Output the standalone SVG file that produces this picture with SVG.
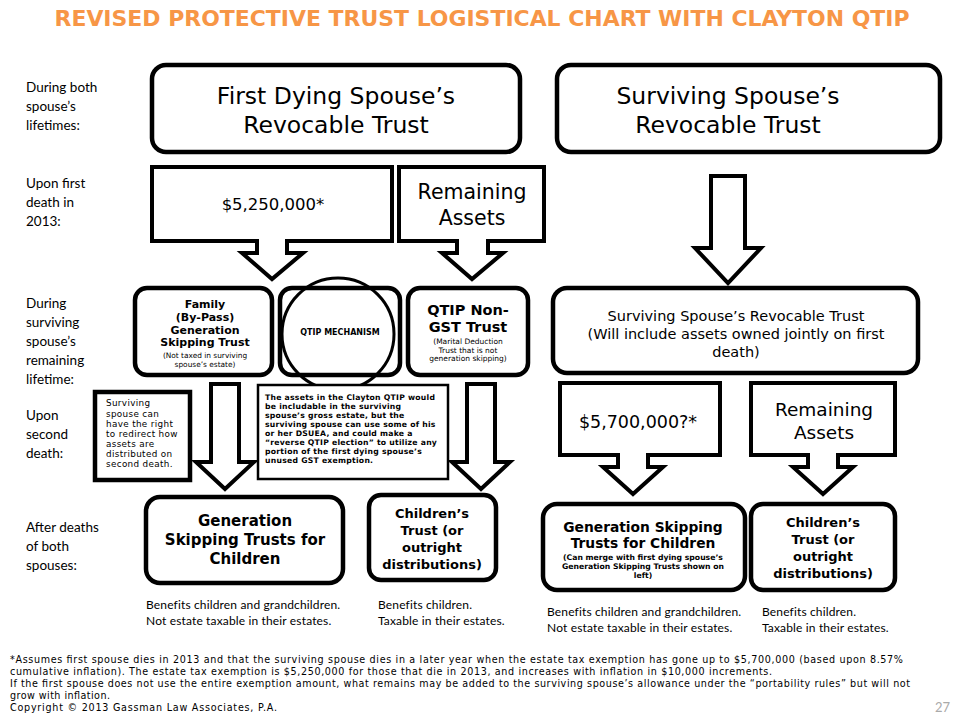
<svg xmlns="http://www.w3.org/2000/svg" width="960" height="720" viewBox="0 0 960 720">
<style>
.box{fill:#fff;stroke:#000;stroke-width:4.5}
.call{fill:#fff;stroke:#000;stroke-width:4;stroke-linejoin:miter}
.v{font-family:"DejaVu Sans",Verdana,sans-serif;fill:#000}
.b{font-family:"DejaVu Sans",Verdana,sans-serif;font-weight:bold;fill:#000}
.c{font-family:Lato,"Liberation Sans",sans-serif;fill:#000}
.m{text-anchor:middle}
</style>
<rect width="960" height="720" fill="#fff"/>
<text x="482" y="26" font-family="'DejaVu Sans Condensed','DejaVu Sans',sans-serif" font-weight="bold" text-anchor="middle" font-size="20.5" fill="#F79646" textLength="855" lengthAdjust="spacingAndGlyphs">REVISED PROTECTIVE TRUST LOGISTICAL CHART WITH CLAYTON QTIP</text>

<g id="labels" class="c" font-size="13.5">
<text x="26" y="92">During both</text><text x="26" y="111">spouse’s</text><text x="26" y="130">lifetimes:</text>
<text x="26" y="188">Upon first</text><text x="26" y="207">death in</text><text x="26" y="226">2013:</text>
<text x="26" y="308">During</text><text x="26" y="327">surviving</text><text x="26" y="346">spouse’s</text><text x="26" y="365">remaining</text><text x="26" y="384">lifetime:</text>
<text x="26" y="420">Upon</text><text x="26" y="439">second</text><text x="26" y="458">death:</text>
<text x="26" y="532">After deaths</text><text x="26" y="551">of both</text><text x="26" y="570">spouses:</text>
</g>

<g id="connectors">
<path class="call" d="M711,176 H745 V248 H761 L728,283 L695,248 H711 Z"/>
<path class="call" d="M211,384 H239 V462 H254 L225,489 L196,462 H211 Z"/>
<path class="call" d="M467,384 H495 V462 H510 L481,489 L452,462 H467 Z"/>
</g>

<g id="first-dying">
<rect class="box" x="152" y="65" width="368" height="87" rx="14"/>
<text class="v m" font-size="23.5" x="336" y="104">First Dying Spouse’s</text>
<text class="v m" font-size="23.5" x="336" y="133">Revocable Trust</text>
</g>
<g id="surviving">
<rect class="box" x="557" y="65" width="383" height="87" rx="14"/>
<text class="v m" font-size="23.5" x="728" y="104">Surviving Spouse’s</text>
<text class="v m" font-size="23.5" x="728" y="133">Revocable Trust</text>
</g>

<g id="amount-first">
<path class="call" d="M152,167 H392 V241 H287 V253 H303 L272,279 L242,253 H257 V241 H152 Z"/>
<text class="v m" font-size="16.5" x="273" y="210">$5,250,000*</text>
</g>
<g id="remaining-first">
<path class="call" d="M399,167 H544 V241 H488 V253 H503 L472,279 L442,253 H457 V241 H399 Z"/>
<text class="v m" font-size="20.5" x="472" y="199">Remaining</text>
<text class="v m" font-size="20.5" x="472" y="225">Assets</text>
</g>

<g id="family">
<rect class="box" x="135" y="288" width="137" height="87" rx="12"/>
<g class="b m" font-size="11">
<text x="205" y="308">Family</text><text x="205" y="321">(By-Pass)</text><text x="205" y="333.5">Generation</text><text x="205" y="346">Skipping Trust</text>
</g>
<g class="v m" font-size="7.4">
<text x="205" y="357.5">(Not taxed in surviving</text><text x="205" y="367">spouse’s estate)</text>
</g>
</g>
<g id="qtip-mechanism">
<rect class="box" x="280" y="288" width="120" height="87" rx="12"/>
<circle cx="338" cy="334" r="56" fill="none" stroke="#000" stroke-width="3"/>
<text class="b m" font-size="8" x="340" y="335">QTIP MECHANISM</text>
</g>
<g id="qtip-non-gst">
<rect class="box" x="408" y="288" width="120" height="87" rx="12"/>
<text class="b m" font-size="14.5" x="468" y="315">QTIP Non-</text>
<text class="b m" font-size="14.5" x="468" y="332">GST Trust</text>
<g class="v m" font-size="7.5">
<text x="468" y="344">(Marital Deduction</text><text x="468" y="352.5">Trust that is not</text><text x="468" y="361">generation skipping)</text>
</g>
</g>
<g id="surviving-trust">
<rect class="box" x="553" y="288" width="365" height="85" rx="14"/>
<g class="v m" font-size="14.5">
<text x="736" y="321">Surviving Spouse’s Revocable Trust</text>
<text x="736" y="339">(Will include assets owned jointly on first</text>
<text x="736" y="357">death)</text>
</g>
</g>

<g id="redirect-note">
<rect x="95" y="392" width="95" height="88" fill="#fff" stroke="#000" stroke-width="4.5"/>
<g class="v" font-size="8.8" letter-spacing="0.35">
<text x="106" y="406">Surviving</text><text x="106" y="416.5">spouse can</text><text x="106" y="427">have the right</text><text x="106" y="437">to redirect how</text><text x="106" y="447">assets are</text><text x="106" y="457">distributed on</text><text x="106" y="467">second death.</text>
</g>
</g>
<g id="clayton-note">
<rect x="258" y="385" width="190" height="94" fill="#fff" stroke="#000" stroke-width="2.5"/>
<g class="b" font-size="7.7" letter-spacing="0.25">
<text x="265" y="400">The assets in the Clayton QTIP would</text>
<text x="265" y="409">be includable in the surviving</text>
<text x="265" y="417.5">spouse’s gross estate, but the</text>
<text x="265" y="426.5">surviving  spouse can use some of his</text>
<text x="265" y="435.5">or her DSUEA, and could make a</text>
<text x="265" y="445">“reverse QTIP election” to utilize any</text>
<text x="265" y="453.5">portion of the first dying spouse’s</text>
<text x="265" y="462.5">unused GST exemption.</text>
</g>
</g>

<g id="amount-second">
<path class="call" d="M560,383 H720 V455 H648 V467 H663 L633,494 L603,467 H618 V455 H560 Z"/>
<text class="v m" font-size="17.5" x="638" y="428">$5,700,000?*</text>
</g>
<g id="remaining-second">
<path class="call" d="M751,383 H895 V455 H838 V467 H853 L823,494 L793,467 H808 V455 H751 Z"/>
<text class="v m" font-size="18.5" x="824" y="416">Remaining</text>
<text class="v m" font-size="18.5" x="824" y="439">Assets</text>
</g>

<g id="gst-left">
<rect class="box" x="146" y="497" width="197" height="86" rx="14"/>
<g class="b m" font-size="15">
<text x="245" y="526">Generation</text><text x="245" y="545">Skipping Trusts for</text><text x="245" y="564">Children</text>
</g>
</g>
<g id="children-left">
<rect class="box" x="369" y="495" width="127" height="85" rx="12"/>
<g class="b m" font-size="13">
<text x="432" y="518">Children’s</text><text x="432" y="535">Trust (or</text><text x="432" y="552">outright</text><text x="432" y="569">distributions)</text>
</g>
</g>
<g id="gst-right">
<rect class="box" x="543" y="504" width="202" height="86" rx="14"/>
<g class="b m" font-size="13.8">
<text x="643" y="532">Generation Skipping</text><text x="643" y="548">Trusts for Children</text>
</g>
<g class="b m" font-size="7.7">
<text x="643" y="560">(Can merge with first dying spouse’s</text><text x="643" y="569">Generation Skipping Trusts shown on</text><text x="643" y="578">left)</text>
</g>
</g>
<g id="children-right">
<rect class="box" x="751" y="504" width="144" height="86" rx="12"/>
<g class="b m" font-size="13">
<text x="823" y="527">Children’s</text><text x="823" y="544">Trust (or</text><text x="823" y="561">outright</text><text x="823" y="578">distributions)</text>
</g>
</g>

<g id="benefits" class="c" font-size="12" letter-spacing="0.15">
<text x="146" y="609">Benefits children and grandchildren.</text>
<text x="146" y="625">Not estate taxable in their estates.</text>
<text x="378" y="609">Benefits children.</text>
<text x="378" y="625">Taxable in their estates.</text>
<text x="547" y="616">Benefits children and grandchildren.</text>
<text x="547" y="632">Not estate taxable in their estates.</text>
<text x="762" y="616">Benefits children.</text>
<text x="762" y="632">Taxable in their estates.</text>
</g>

<g id="footnote" class="v" font-size="9.6">
<text x="10" y="663" textLength="893" lengthAdjust="spacing">*Assumes first spouse dies in 2013 and that the surviving spouse dies in a later year when the estate tax exemption has gone up to $5,700,000 (based upon 8.57%</text>
<text x="10" y="675" textLength="762" lengthAdjust="spacing">cumulative inflation).  The estate tax exemption is $5,250,000 for those that die in 2013, and increases with inflation in $10,000 increments.</text>
<text x="10" y="687" textLength="900" lengthAdjust="spacing">If the first spouse does not use the entire exemption amount, what remains may be added to the surviving spouse’s allowance under the “portability rules” but will not</text>
<text x="10" y="699" textLength="100" lengthAdjust="spacing">grow with inflation.</text>
<text x="10" y="711" textLength="267" lengthAdjust="spacing">Copyright © 2013 Gassman Law Associates, P.A.</text>
</g>
<text x="950" y="712" font-family="Lato,'Liberation Sans',sans-serif" font-size="13" fill="#aaaaaa" text-anchor="end">27</text>
</svg>
